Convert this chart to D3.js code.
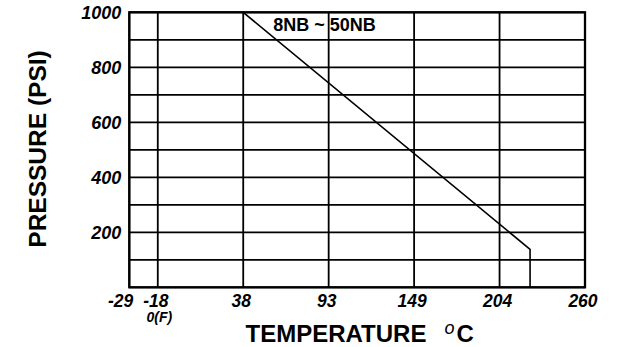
<!DOCTYPE html>
<html>
<head>
<meta charset="utf-8">
<script src="https://cdn.jsdelivr.net/npm/d3@7"></script>
<style>
  html, body { margin: 0; padding: 0; background: #fff; }
  svg { display: block; }
  text { font-family: "Liberation Sans", Arial, sans-serif; fill: #000; }
</style>
</head>
<body>
<svg id="chart" width="618" height="347"></svg>
<script>
// Temperature tick labels (°C) and pressure grid / labels (PSI)
const tempTicks = [-29, -18, 38, 93, 149, 204, 260];
const pressureGrid = [0, 100, 200, 300, 400, 500, 600, 700, 800, 900, 1000];
const pressureLabels = [200, 400, 600, 800, 1000];

// Pressure–temperature rating curve for 8NB ~ 50NB
const curveTemp = [-29, 38, 224, 224];
const curvePressure = [1000, 1000, 138, 0];
const seriesLabel = "8NB ~ 50NB";

const svg = d3.select("#chart");
const plotLeft = 129.3, plotRight = 585, plotTop = 12.3, plotBottom = 287.3;

// Tick columns are evenly spaced except the first narrow one (-29 to -18)
const cell = (plotRight - plotLeft) / (16 / 3);
const slots = [0, 1 / 3, 4 / 3, 7 / 3, 10 / 3, 13 / 3, 16 / 3];
const x = d3.scaleLinear()
  .domain(tempTicks)
  .range(slots.map(s => plotLeft + s * cell));
const y = d3.scaleLinear().domain([0, 1000]).range([plotBottom, plotTop]);

// Grid
const grid = svg.append("g").attr("stroke", "#000").attr("stroke-width", 1.8);
grid.selectAll("line.h").data(pressureGrid).join("line")
  .attr("class", "h")
  .attr("x1", plotLeft).attr("x2", plotRight)
  .attr("y1", d => y(d)).attr("y2", d => y(d));
grid.selectAll("line.v").data(tempTicks).join("line")
  .attr("class", "v")
  .attr("x1", d => x(d)).attr("x2", d => x(d))
  .attr("y1", plotTop).attr("y2", plotBottom);

// Frame
svg.append("rect")
  .attr("x", plotLeft).attr("y", plotTop)
  .attr("width", plotRight - plotLeft).attr("height", plotBottom - plotTop)
  .attr("fill", "none").attr("stroke", "#000").attr("stroke-width", 2.3);

// Rating curve
const pts = curveTemp.map((t, i) => [t, curvePressure[i]]);
svg.append("path")
  .datum(pts)
  .attr("fill", "none")
  .attr("stroke", "#000")
  .attr("stroke-width", 1.6)
  .attr("d", d3.line().x(d => x(d[0])).y(d => y(d[1])));

// Series label
svg.append("text")
  .attr("x", x(38) + 30)
  .attr("y", y(1000) + 19)
  .attr("font-size", 18)
  .attr("font-weight", "bold")
  .text(seriesLabel);

// Y tick labels
svg.append("g").selectAll("text").data(pressureLabels).join("text")
  .attr("x", plotLeft - 8)
  .attr("y", d => y(d))
  .attr("dy", "0.36em")
  .attr("text-anchor", "end")
  .attr("font-size", 18)
  .attr("font-weight", "bold")
  .attr("font-style", "italic")
  .text(d => d);

// X tick labels (the first one sits flush left of the frame corner)
svg.append("g").selectAll("text").data(tempTicks).join("text")
  .attr("x", (d, i) => i === 0 ? x(d) + 4 : x(d) - 2)
  .attr("y", plotBottom + 19.5)
  .attr("text-anchor", (d, i) => i === 0 ? "end" : "middle")
  .attr("font-size", 17.5)
  .attr("font-weight", "bold")
  .attr("font-style", "italic")
  .text(d => d);

// Fahrenheit note under -18
svg.append("text")
  .attr("x", x(-18) + 1.5)
  .attr("y", plotBottom + 35)
  .attr("text-anchor", "middle")
  .attr("font-size", 14)
  .attr("font-weight", "bold")
  .attr("font-style", "italic")
  .text("0(F)");

// X axis title with superscript degree mark
const xt = svg.append("text")
  .attr("x", 245.5)
  .attr("y", 341.5)
  .attr("font-size", 24)
  .attr("font-weight", "bold");
xt.append("tspan").text("TEMPERATURE");
xt.append("tspan")
  .attr("font-size", 18)
  .attr("font-style", "italic")
  .attr("font-weight", "normal")
  .attr("dx", 18).attr("dy", -8)
  .text("o");
xt.append("tspan").attr("dx", 2).attr("dy", 8).text("C");

// Y axis title
svg.append("text")
  .attr("transform", "translate(46,149) rotate(-90)")
  .attr("text-anchor", "middle")
  .attr("font-size", 24.5)
  .attr("font-weight", "bold")
  .text("PRESSURE (PSI)");
</script>
</body>
</html>
